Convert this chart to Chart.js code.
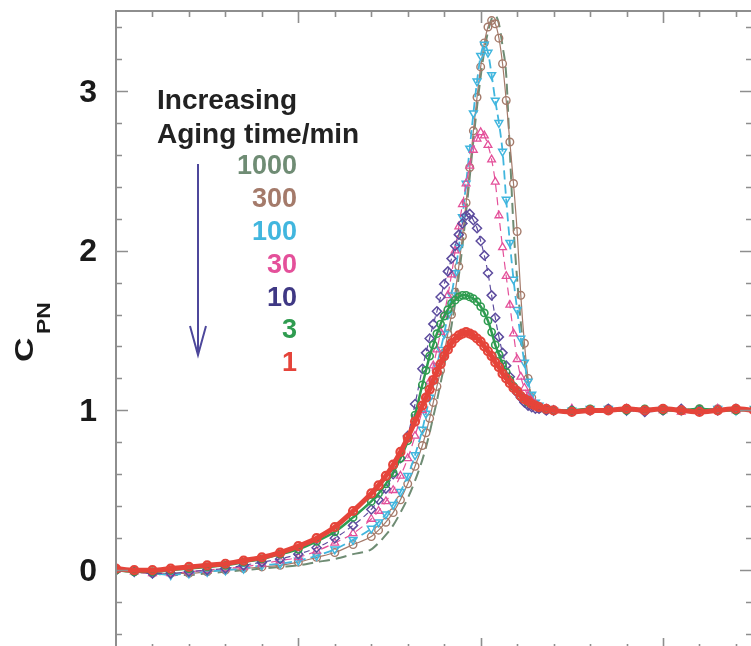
<!DOCTYPE html>
<html>
<head>
<meta charset="utf-8">
<script src="https://cdn.jsdelivr.net/npm/chart.js@4.4.1/dist/chart.umd.min.js"></script>
<style>
  html, body { margin: 0; padding: 0; background: #fff; overflow: hidden; }
  canvas { display: block; }
</style>
</head>
<body>
<canvas id="cpnChart" width="753" height="650"></canvas>
<script>
// x positions (arbitrary units, ticks every 1, major every 5); denser around the peak
const xValues = [0, 0.5, 1, 1.5, 2, 2.5, 3, 3.5, 4, 4.5, 5, 5.5, 6, 6.5, 7,
    7.2, 7.4, 7.6, 7.8, 8.0, 8.2, 8.4,
    8.5, 8.6, 8.7, 8.8, 8.9, 9.0, 9.1, 9.2, 9.3, 9.4, 9.5, 9.6, 9.7, 9.8, 9.9, 10.0,
    10.1, 10.2, 10.3, 10.4, 10.5, 10.6, 10.7, 10.8, 10.9, 11.0, 11.1, 11.2, 11.3, 11.4, 11.5, 11.6,
    11.8, 12.0,
    12.5, 13, 13.5, 14, 14.5, 15, 15.5, 16, 16.5, 17, 17.5];

// C_PN for each aging time (min)
const cpn1 = [0.01, 0.00, 0.00, 0.01, 0.02, 0.03, 0.04, 0.06, 0.08, 0.11, 0.15, 0.20, 0.27, 0.37, 0.48,
    0.53, 0.59, 0.66, 0.74, 0.83, 0.93, 1.03,
    1.08, 1.13, 1.19, 1.24, 1.29, 1.34, 1.38, 1.42, 1.45, 1.47, 1.48, 1.49, 1.48, 1.47, 1.45, 1.43,
    1.40, 1.37, 1.34, 1.30, 1.27, 1.23, 1.20, 1.17, 1.14, 1.12, 1.09, 1.07, 1.06, 1.04, 1.03, 1.02,
    1.01, 1.00,
    0.99, 1.00, 1.00, 1.01, 1.00, 1.01, 1.00, 0.99, 1.00, 1.01, 1.00];
const cpn3 = [0.00, -0.01, -0.01, 0.00, 0.01, 0.02, 0.03, 0.05, 0.07, 0.10, 0.13, 0.18, 0.24, 0.33, 0.43,
    0.48, 0.54, 0.61, 0.70, 0.81, 0.97, 1.16,
    1.25, 1.34, 1.41, 1.48, 1.54, 1.59, 1.63, 1.67, 1.69, 1.71, 1.72, 1.72, 1.71, 1.70, 1.68, 1.65,
    1.61, 1.56, 1.49, 1.41, 1.35, 1.29, 1.24, 1.19, 1.15, 1.12, 1.09, 1.07, 1.05, 1.04, 1.03, 1.02,
    1.01, 1.00,
    1.00, 1.01, 1.00, 1.00, 1.01, 1.00, 1.00, 1.01, 1.00, 1.00, 1.01];
const cpn10 = [0.00, -0.01, -0.02, -0.02, -0.01, 0.00, 0.01, 0.03, 0.05, 0.07, 0.10, 0.14, 0.20, 0.28, 0.38,
    0.44, 0.51, 0.60, 0.70, 0.84, 1.04, 1.26,
    1.36, 1.45, 1.54, 1.62, 1.71, 1.79, 1.87, 1.95, 2.03, 2.10, 2.17, 2.22, 2.23, 2.19, 2.14, 2.06,
    1.97, 1.86, 1.72, 1.58, 1.46, 1.36, 1.28, 1.21, 1.15, 1.11, 1.08, 1.05, 1.03, 1.02, 1.01, 1.01,
    1.00, 1.00,
    1.00, 1.00, 1.01, 1.00, 0.99, 1.00, 1.01, 1.00, 1.00, 1.01, 1.00];
const cpn30 = [0.00, -0.01, -0.02, -0.02, -0.01, 0.00, 0.01, 0.02, 0.04, 0.06, 0.08, 0.12, 0.17, 0.23, 0.32,
    0.37, 0.43, 0.50, 0.59, 0.70, 0.84, 1.00,
    1.09, 1.18, 1.28, 1.38, 1.49, 1.60, 1.72, 1.85, 2.00, 2.15, 2.29, 2.42, 2.53, 2.63, 2.70, 2.74,
    2.72, 2.66, 2.57, 2.43, 2.22, 2.02, 1.84, 1.66, 1.48, 1.32, 1.21, 1.14, 1.09, 1.06, 1.04, 1.02,
    1.01, 1.00,
    1.01, 1.00, 1.00, 1.01, 1.00, 1.00, 0.99, 1.00, 1.01, 1.00, 1.00];
const cpn100 = [0.00, -0.01, -0.02, -0.03, -0.02, -0.01, 0.00, 0.01, 0.03, 0.04, 0.06, 0.09, 0.13, 0.19, 0.26,
    0.30, 0.35, 0.41, 0.49, 0.59, 0.72, 0.88,
    0.98, 1.08, 1.18, 1.28, 1.38, 1.48, 1.60, 1.72, 1.86, 2.02, 2.21, 2.42, 2.64, 2.86, 3.06, 3.22,
    3.29, 3.24, 3.10, 2.94, 2.80, 2.62, 2.32, 2.05, 1.82, 1.63, 1.45, 1.30, 1.18, 1.10, 1.05, 1.03,
    1.01, 1.00,
    1.00, 1.01, 1.01, 1.00, 1.00, 1.01, 1.00, 1.00, 1.01, 1.00, 1.01];
const cpn300 = [0.00, -0.01, -0.02, -0.02, -0.02, -0.01, 0.00, 0.01, 0.02, 0.03, 0.05, 0.08, 0.11, 0.16, 0.21,
    0.25, 0.30, 0.36, 0.44, 0.54, 0.65, 0.78,
    0.86, 0.95, 1.05, 1.15, 1.25, 1.36, 1.48, 1.60, 1.74, 1.90, 2.09, 2.30, 2.52, 2.75, 2.96, 3.15,
    3.30, 3.40, 3.44, 3.42, 3.33, 3.17, 2.94, 2.68, 2.42, 2.12, 1.72, 1.42, 1.20, 1.08, 1.03, 1.01,
    1.00, 1.00,
    1.00, 1.00, 1.01, 1.01, 1.00, 1.00, 1.00, 1.01, 1.01, 1.00, 1.00];
const cpn1000 = [0.00, -0.01, -0.02, -0.03, -0.03, -0.02, -0.01, 0.00, 0.01, 0.02, 0.03, 0.05, 0.07, 0.10, 0.13,
    0.17, 0.22, 0.28, 0.36, 0.45, 0.56, 0.69,
    0.77, 0.86, 0.96, 1.06, 1.17, 1.28, 1.40, 1.53, 1.67, 1.84, 2.03, 2.24, 2.46, 2.69, 2.90, 3.09,
    3.25, 3.37, 3.45, 3.47, 3.42, 3.28, 3.10, 2.62, 2.15, 1.82, 1.55, 1.32, 1.17, 1.08, 1.03, 1.01,
    1.00, 1.00,
    1.00, 1.01, 1.00, 1.00, 1.01, 1.01, 1.00, 1.00, 1.00, 1.01, 1.01];

const agingTimes = ['1000', '300', '100', '30', '10', '3', '1'];
const agingColors = ['#6f8c74', '#a47a6a', '#41b6de', '#e4509a', '#3f3884', '#2f9c50', '#e5443a'];
const yMajorTicks = [0, 1, 2, 3];

const FONT = '"Liberation Sans", Arial, Helvetica, sans-serif';

function toPoints(ys) {
    return xValues.map((x, i) => ({ x: x, y: ys[i] }));
}

// red on top, 1000 min at the bottom of the stack
const datasets = [
    { label: '1', data: toPoints(cpn1), borderColor: '#e5443a', pointStyle: 'circle', pointRadius: 4, pointBorderWidth: 2.2, borderWidth: 5, borderDash: [], order: 0 },
    { label: '3', data: toPoints(cpn3), borderColor: '#2f9c50', pointStyle: 'circle', pointRadius: 3.6, pointBorderWidth: 1.6, borderWidth: 2.5, borderDash: [], order: 1 },
    { label: '10', data: toPoints(cpn10), borderColor: '#5d4c9e', pointStyle: 'rectRot', pointRadius: 4.5, pointBorderWidth: 1.5, borderWidth: 1.2, borderDash: [6, 4], order: 2 },
    { label: '30', data: toPoints(cpn30), borderColor: '#e4509a', pointStyle: 'triangle', pointRadius: 4.5, pointBorderWidth: 1.3, borderWidth: 1.2, borderDash: [8, 5], order: 3 },
    { label: '100', data: toPoints(cpn100), borderColor: '#41b6de', pointStyle: 'triangle', pointRotation: 180, pointRadius: 4.5, pointBorderWidth: 1.5, borderWidth: 1.8, borderDash: [9, 5], order: 4 },
    { label: '300', data: toPoints(cpn300), borderColor: '#a47a6a', pointStyle: 'circle', pointRadius: 3.8, pointBorderWidth: 1.4, borderWidth: 1.2, borderDash: [], order: 5 },
    { label: '1000', data: toPoints(cpn1000), borderColor: '#6f8c74', pointStyle: 'line', pointRadius: 0, borderWidth: 2, borderDash: [11, 6], order: 6 }
].map(ds => Object.assign({
    backgroundColor: 'rgba(255,255,255,0)',
    pointBackgroundColor: 'rgba(255,255,255,0)',
    pointBorderColor: ds.borderColor,
    cubicInterpolationMode: 'monotone',
    fill: false
}, ds));

// --- axes frame, inward ticks, labels, legend text and arrow ---
const decorPlugin = {
    id: 'decor',
    afterDraw(chart) {
        const ctx = chart.ctx;
        const area = chart.chartArea;
        const xs = chart.scales.x;
        const ys = chart.scales.y;

        ctx.save();
        ctx.strokeStyle = '#8e8e8e';
        ctx.lineWidth = 2;
        ctx.strokeRect(area.left, area.top, area.right - area.left, area.bottom - area.top);

        ctx.lineWidth = 1.6;
        ctx.beginPath();
        // y ticks every 0.2, longer at integers
        for (let k = -2; k <= 17; k++) {
            const v = k / 5;
            const py = Math.round(ys.getPixelForValue(v)) + 0.5;
            const len = (k % 5 === 0) ? 12 : 6;
            ctx.moveTo(area.left, py); ctx.lineTo(area.left + len, py);
            ctx.moveTo(area.right, py); ctx.lineTo(area.right - len, py);
        }
        // x ticks every 1, longer every 5
        for (let v = 1; v <= 17; v++) {
            const px = Math.round(xs.getPixelForValue(v)) + 0.5;
            const len = (v % 5 === 0) ? 12 : 6;
            ctx.moveTo(px, area.top); ctx.lineTo(px, area.top + len);
            ctx.moveTo(px, area.bottom); ctx.lineTo(px, area.bottom - len);
        }
        ctx.stroke();

        // y tick labels
        ctx.fillStyle = '#1a1a1a';
        ctx.font = 'bold 32px ' + FONT;
        ctx.textAlign = 'right';
        ctx.textBaseline = 'middle';
        yMajorTicks.forEach(v => {
            ctx.fillText(String(v), 97, ys.getPixelForValue(v) + 2);
        });

        // y title C_PN
        ctx.save();
        ctx.translate(33, 362);
        ctx.rotate(-Math.PI / 2);
        ctx.scale(1, 0.78);
        ctx.textAlign = 'left';
        ctx.textBaseline = 'alphabetic';
        ctx.font = 'bold 34px ' + FONT;
        ctx.fillText('C', 0, 0);
        ctx.font = 'bold 23px ' + FONT;
        ctx.fillText('PN', 28, 22);
        ctx.restore();

        // legend heading
        ctx.textAlign = 'left';
        ctx.textBaseline = 'alphabetic';
        ctx.font = 'bold 28px ' + FONT;
        ctx.fillStyle = '#222';
        ctx.fillText('Increasing', 157, 109);
        ctx.fillText('Aging time/min', 157, 143);

        // aging time values, right aligned
        ctx.textAlign = 'right';
        ctx.textBaseline = 'middle';
        ctx.font = 'bold 27px ' + FONT;
        agingTimes.forEach((t, i) => {
            ctx.fillStyle = agingColors[i];
            ctx.fillText(t, 297, 167 + i * 32.8);
        });

        // arrow
        ctx.strokeStyle = '#4d479b';
        ctx.lineWidth = 2;
        ctx.beginPath();
        ctx.moveTo(198, 164); ctx.lineTo(198, 355);
        ctx.moveTo(190, 326); ctx.lineTo(198, 355); ctx.lineTo(206, 326);
        ctx.stroke();
        ctx.restore();
    }
};

new Chart(document.getElementById('cpnChart'), {
    type: 'line',
    data: { datasets: datasets },
    options: {
        responsive: false,
        animation: false,
        devicePixelRatio: 1,
        layout: { autoPadding: false, padding: { left: 116, top: 11, right: 1, bottom: 0 } },
        plugins: {
            legend: { display: false },
            tooltip: { enabled: false }
        },
        scales: {
            x: { type: 'linear', display: false, min: 0, max: 17.44 },
            y: { type: 'linear', display: false, min: -0.5, max: 3.5 }
        }
    },
    plugins: [decorPlugin]
});
</script>
</body>
</html>
